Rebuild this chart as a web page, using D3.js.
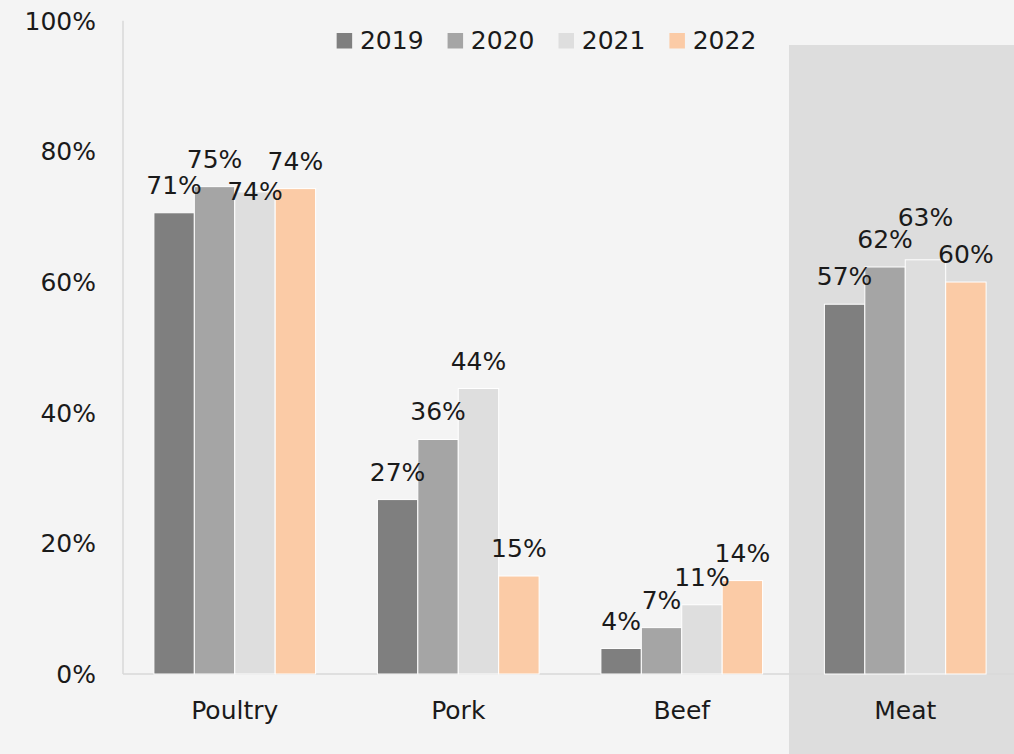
<!DOCTYPE html>
<html><head><meta charset="utf-8">
<script src="https://cdn.jsdelivr.net/npm/d3@7"></script>
<style>
body{margin:0;background:#f4f4f4;overflow:hidden;}
text{font-family:"DejaVu Sans",sans-serif;fill:#1a1a1a;}
</style>
</head><body><svg id="c" width="1014" height="754"></svg>
<script>
const categories = ["Poultry","Pork","Beef","Meat"];
const years = ["2019","2020","2021","2022"];
const v2019 = [70.6, 26.7, 3.9, 56.6];
const v2020 = [74.6, 35.9, 7.1, 62.3];
const v2021 = [73.8, 43.7, 10.6, 63.4];
const v2022 = [74.3, 15.0, 14.3, 60.0];
const yTicks = [0, 20, 40, 60, 80, 100];
const highlightCategory = "Meat";

const series = [v2019, v2020, v2021, v2022];
const colors = ["#7f7f7f", "#a5a5a5", "#dedede", "#fbcba6"];
// label nudges for overlapping labels (category index-year index: dy)
const labelNudge = {"0-2": 27, "3-2": -15};

const W = 1014, H = 754, FS = 25;
const svg = d3.select("#c");
svg.append("rect").attr("width", W).attr("height", H).attr("fill", "#f4f4f4");

const x = d3.scaleBand().domain(categories).range([123, 1017]);
const y = d3.scaleLinear().domain([0, 100]).range([674, 20.7]);
const groupW = 161.7;
const xi = d3.scaleBand().domain(years).range([0, groupW]);
const off = (x.bandwidth() - groupW) / 2;

// highlight region
svg.append("rect")
  .attr("x", x(highlightCategory) - 4.5).attr("y", 45)
  .attr("width", W - x(highlightCategory) + 10).attr("height", H - 45)
  .attr("fill", "#dddddd");

// axes lines
svg.append("line").attr("x1", 123).attr("x2", 123).attr("y1", y(100)).attr("y2", y(0))
  .attr("stroke", "#d9d9d9").attr("stroke-width", 1.5);
svg.append("line").attr("x1", 123).attr("x2", W).attr("y1", y(0)).attr("y2", y(0))
  .attr("stroke", "#d9d9d9").attr("stroke-width", 1.5);

// y tick labels
svg.append("g").selectAll("text").data(yTicks).join("text")
  .attr("x", 96).attr("y", d => y(d)).attr("dy", "0.36em")
  .attr("text-anchor", "end").attr("font-size", FS)
  .text(d => d + "%");

// bars
const data = [];
categories.forEach((c, ci) => years.forEach((yr, yi) => data.push({c, ci, yr, yi, v: series[yi][ci]})));
const fmt = d3.format(".0f");

svg.append("g").selectAll("rect").data(data).join("rect")
  .attr("x", d => x(d.c) + off + xi(d.yr))
  .attr("width", xi.bandwidth())
  .attr("y", d => y(d.v))
  .attr("height", d => y(0) - y(d.v))
  .attr("fill", d => colors[d.yi])
  .attr("stroke", "#ffffff").attr("stroke-width", 1);

svg.append("g").selectAll("text").data(data).join("text")
  .attr("x", d => x(d.c) + off + xi(d.yr) + xi.bandwidth() / 2)
  .attr("y", d => y(d.v) - 19 + (labelNudge[d.ci + "-" + d.yi] || 0))
  .attr("text-anchor", "middle").attr("font-size", FS)
  .text(d => fmt(d.v) + "%");

// category labels
svg.append("g").selectAll("text").data(categories).join("text")
  .attr("x", d => x(d) + x.bandwidth() / 2).attr("y", 719)
  .attr("text-anchor", "middle").attr("font-size", FS)
  .text(d => d);

// legend (centered)
const lg = svg.append("g");
let lx = 0;
years.forEach((yr, i) => {
  lg.append("rect").attr("x", lx).attr("y", 33).attr("width", 15.5).attr("height", 15.5).attr("fill", colors[i]);
  const t = lg.append("text").attr("x", lx + 23.3).attr("y", 49).attr("font-size", FS).text(yr);
  lx += 23.3 + t.node().getComputedTextLength() + 24;
});
const lw = lx - 24;
lg.attr("transform", `translate(${546.5 - lw / 2},0)`);
</script>
</body></html>
